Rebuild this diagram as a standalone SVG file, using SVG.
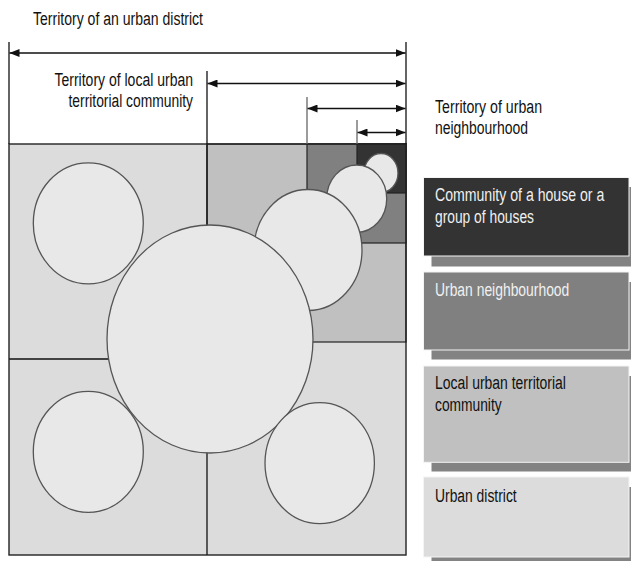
<svg xmlns="http://www.w3.org/2000/svg" width="631" height="561" viewBox="0 0 631 561">
<style>
text{font-family:"Liberation Sans",Arial,sans-serif;font-size:18px;fill:#111}
.light{fill:#f0f0f0}
.circ{fill:#e8e8e8;stroke:#555;stroke-width:1.3}
.reg{stroke:#222;stroke-width:1.2}
.ln{stroke:#111;stroke-width:1.3;fill:none}
.gl{stroke:#666;stroke-width:1.3;fill:none}
.arr{stroke:#111;stroke-width:1.4;fill:none;marker-start:url(#ah);marker-end:url(#ah)}
.shadow{fill:#838383}
.box{stroke:#f4f4f4;stroke-width:1}
</style>
<defs>
<marker id="ah" viewBox="0 0 10 8" refX="10" refY="4" markerWidth="10" markerHeight="8" markerUnits="userSpaceOnUse" orient="auto-start-reverse">
<path d="M0,0 L10,4 L0,8 Z" fill="#111"/>
</marker>
</defs>

<g id="labels">
<text transform="translate(33,25) scale(0.775,1)" textLength="219.4" lengthAdjust="spacingAndGlyphs">Territory of an urban district</text>
<text transform="translate(54.5,86) scale(0.775,1)" textLength="178.7" lengthAdjust="spacingAndGlyphs">Territory of local urban</text>
<text transform="translate(68.5,107) scale(0.775,1)" textLength="160.6" lengthAdjust="spacingAndGlyphs">territorial community</text>
<text transform="translate(435,113) scale(0.775,1)" textLength="138.1" lengthAdjust="spacingAndGlyphs">Territory of urban</text>
<text transform="translate(435,134) scale(0.775,1)" textLength="120" lengthAdjust="spacingAndGlyphs">neighbourhood</text>
</g>

<g id="urban-district">
<rect x="9" y="144" width="397" height="411" fill="#dcdcdc"/>
</g>
<g id="local-community-area">
<rect class="reg" x="207" y="144" width="199" height="198" fill="#c0c0c0"/>
</g>
<g id="neighbourhood-area">
<rect class="reg" x="307" y="144" width="99" height="99" fill="#808080"/>
</g>
<g id="house-area">
<rect class="reg" x="357" y="144" width="49" height="49" fill="#333333"/>
</g>
<g id="grid-lines">
<line class="ln" x1="9" y1="359" x2="207" y2="359"/>
<line class="ln" x1="207" y1="144" x2="207" y2="555"/>
</g>

<g id="circle-house"><ellipse class="circ" cx="381" cy="173" rx="17" ry="19.5"/></g>
<g id="circle-neighbourhood"><ellipse class="circ" cx="356.7" cy="198.7" rx="30" ry="33.7"/></g>
<g id="circle-local"><ellipse class="circ" cx="308" cy="250" rx="54" ry="60.5"/></g>
<g id="circle-district"><ellipse class="circ" cx="210" cy="339" rx="103" ry="114"/></g>
<g id="circle-top-left"><ellipse class="circ" cx="88.3" cy="223.3" rx="55" ry="60.5"/></g>
<g id="circle-bottom-left"><ellipse class="circ" cx="88.3" cy="451.8" rx="55" ry="60.5"/></g>
<g id="circle-bottom-right"><ellipse class="circ" cx="319.7" cy="463.2" rx="54.7" ry="60.5"/></g>

<g id="outer-border">
<rect x="9" y="144" width="397" height="411" fill="none" stroke="#222" stroke-width="1.4"/>
</g>

<g id="connectors">
<line class="ln" x1="9" y1="42" x2="9" y2="144"/>
<line class="ln" x1="406" y1="42" x2="406" y2="144"/>
<line class="ln" x1="207" y1="71" x2="207" y2="144"/>
<line class="gl" x1="307" y1="97" x2="307" y2="144"/>
<line class="gl" x1="357" y1="120" x2="357" y2="144"/>
<line class="arr" x1="9.5" y1="53" x2="405.5" y2="53"/>
<line class="arr" x1="207.5" y1="83.5" x2="405.5" y2="83.5"/>
<line class="arr" x1="307.5" y1="108.5" x2="405.5" y2="108.5"/>
<line class="arr" x1="357.5" y1="132.5" x2="405.5" y2="132.5"/>
</g>

<g id="legend-house">
<rect class="shadow" x="431.5" y="187" width="206" height="79.5"/>
<rect class="box" x="423.5" y="177.5" width="205.5" height="78.5" fill="#333333"/>
<text class="light" transform="translate(435,200.5) scale(0.775,1)" textLength="218.5" lengthAdjust="spacingAndGlyphs">Community of a house or a</text>
<text class="light" transform="translate(435,222.5) scale(0.775,1)" textLength="127.7" lengthAdjust="spacingAndGlyphs">group of houses</text>
</g>
<g id="legend-neighbourhood">
<rect class="shadow" x="431.5" y="282" width="206" height="77.5" fill="#7a7a7a"/>
<rect class="box" x="423.5" y="272" width="205.5" height="78" fill="#808080"/>
<text class="light" transform="translate(435,296) scale(0.775,1)" textLength="173.3" lengthAdjust="spacingAndGlyphs">Urban neighbourhood</text>
</g>
<g id="legend-local">
<rect class="shadow" x="431.5" y="376" width="206" height="95.5"/>
<rect class="box" x="423.5" y="366" width="205.5" height="96.3" fill="#c0c0c0"/>
<text transform="translate(435,388.5) scale(0.775,1)" textLength="169" lengthAdjust="spacingAndGlyphs">Local urban territorial</text>
<text transform="translate(435,411) scale(0.775,1)" textLength="86" lengthAdjust="spacingAndGlyphs">community</text>
</g>
<g id="legend-district">
<rect class="shadow" x="431.5" y="487" width="206" height="80"/>
<rect class="box" x="423.5" y="477" width="205.5" height="80" fill="#dcdcdc"/>
<text transform="translate(435,501.5) scale(0.775,1)" textLength="105.4" lengthAdjust="spacingAndGlyphs">Urban district</text>
</g>
</svg>
